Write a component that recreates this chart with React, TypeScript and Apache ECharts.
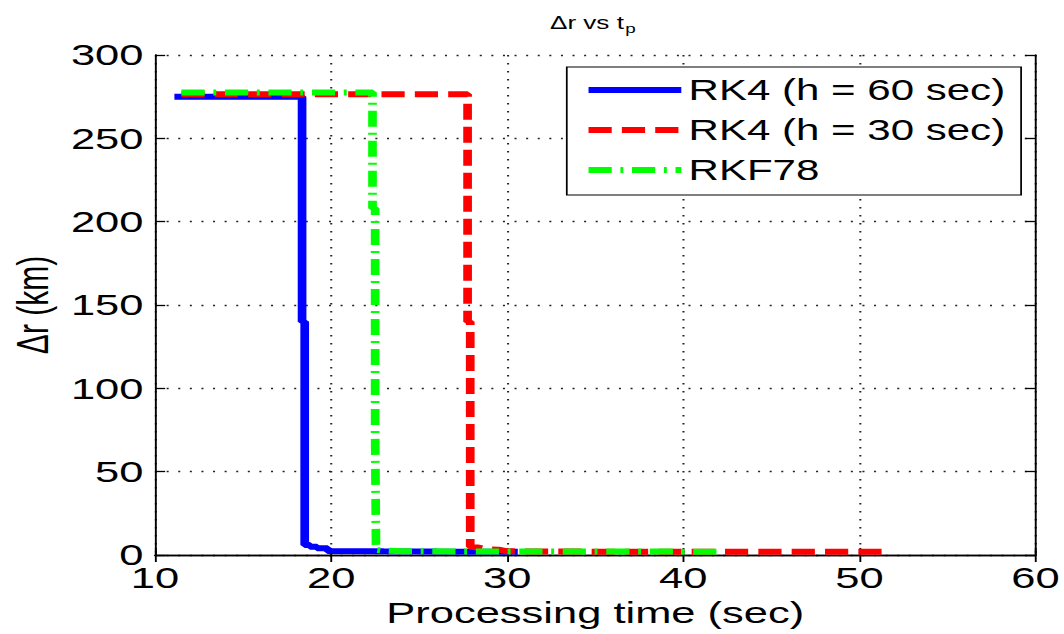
import React, { useEffect, useRef } from "react";
import * as echarts from "echarts";

// Data (x: processing time in sec, y: Δr in km)
const seriesNames = ["RK4 (h = 60 sec)", "RK4 (h = 30 sec)", "RKF78"];

const rk4h60: [number, number][] = [
  [11.1, 275], [18.35, 275], [18.35, 140], [18.5, 140], [18.5, 6],
  [18.8, 6], [18.8, 5], [19.2, 5], [19.2, 4], [19.8, 4], [19.8, 2.4],
  [23, 2.2], [26, 2.1], [30.6, 2],
];

const rk4h30: [number, number][] = [
  [11.5, 276.5], [27.75, 276.5], [27.75, 140], [27.9, 140], [27.9, 5],
  [28.3, 4.5], [28.8, 3.5], [29.5, 3.2], [30, 2.2], [35, 2], [51.7, 2],
];

const rkf78: [number, number][] = [
  [11.5, 277.5], [22.35, 277.5], [22.35, 208], [22.5, 208], [22.5, 73],
  [22.55, 73], [22.55, 3], [23, 2.6], [24, 2.2], [42.1, 2],
];

const xRange = { min: 10, max: 60, interval: 10 };
const yRange = { min: 0, max: 300, interval: 50 };

// The reference image is horizontally stretched; reproduce that by drawing
// at a narrower width and scaling the whole chart horizontally.
const PAGE_W = 1064;
const PAGE_H = 634;
const CHART_W = 734;
const STRETCH = PAGE_W / CHART_W;

const FONT = "Liberation Sans";

export default function App() {
  const ref = useRef<HTMLDivElement>(null);

  useEffect(() => {
    document.body.style.margin = "0";
    document.body.style.overflow = "hidden";
    const chart = echarts.init(ref.current!, null, { renderer: "svg" });

    const axisLine = { show: true, lineStyle: { color: "#000", width: 1.3 } };
    const tick = { show: true, inside: true, length: 7, lineStyle: { color: "#000", width: 1.3 } };
    const grid = { show: true, lineStyle: { color: "#222", width: 1.4, type: [1.4, 6.6] } };
    const label = { fontFamily: FONT, fontSize: 30, color: "#000", lineHeight: 22 };

    chart.setOption({
      animation: false,
      backgroundColor: "#fff",
      title: {
        text: "{b|Δr vs t}{s|p}",
        left: 404,
        textAlign: "center",
        top: 6,
        textStyle: {
          fontWeight: "normal",
          rich: {
            b: { fontFamily: FONT, fontSize: 18, fontWeight: "normal", color: "#000" },
            s: { fontFamily: FONT, fontSize: 13, fontWeight: "normal", color: "#000", padding: [11, 0, 0, 1] },
          },
        },
      },
      grid: { left: 102.8, top: 55, right: 17.9, bottom: 79, containLabel: false },
      legend: {
        data: seriesNames,
        orient: "vertical",
        left: 391,
        top: 67,
        padding: [8, 11, 10, 12],
        itemGap: 10,
        itemWidth: 64,
        itemHeight: 14,
        backgroundColor: "#fff",
        borderColor: "#000",
        borderWidth: 1.2,
        borderRadius: 0,
        itemStyle: { opacity: 0 },
        lineStyle: { width: 6 },
        textStyle: { fontFamily: FONT, fontSize: 29, color: "#000", lineHeight: 30 },
      },
      xAxis: [
        {
          type: "value",
          ...xRange,
          name: "Processing time (sec)",
          nameLocation: "middle",
          nameGap: 28,
          nameTextStyle: { fontFamily: FONT, fontSize: 30, color: "#000" },
          axisLine,
          axisTick: tick,
          splitLine: grid,
          axisLabel: { ...label, margin: 12 },
        },
        {
          type: "value",
          position: "top",
          ...xRange,
          axisLine,
          axisTick: tick,
          splitLine: { show: false },
          axisLabel: { show: false },
        },
      ],
      yAxis: [
        {
          type: "value",
          ...yRange,
          name: "Δr (km)",
          nameLocation: "middle",
          nameGap: 67,
          nameRotate: 90,
          nameTextStyle: { fontFamily: FONT, fontSize: 30, color: "#000" },
          axisLine,
          axisTick: tick,
          splitLine: grid,
          axisLabel: { ...label, margin: 8 },
        },
        {
          type: "value",
          position: "right",
          ...yRange,
          axisLine,
          axisTick: tick,
          splitLine: { show: false },
          axisLabel: { show: false },
        },
      ],
      series: [
        {
          name: seriesNames[0],
          type: "line",
          data: rk4h60,
          symbol: "none",
          lineStyle: { color: "#0000ff", width: 6, type: "solid", cap: "butt" },
          itemStyle: { color: "#0000ff" },
        },
        {
          name: seriesNames[1],
          type: "line",
          data: rk4h30,
          symbol: "none",
          lineStyle: { color: "#ff0000", width: 6, type: [16, 7], cap: "butt" },
          itemStyle: { color: "#ff0000" },
        },
        {
          name: seriesNames[2],
          type: "line",
          data: rkf78,
          symbol: "none",
          lineStyle: { color: "#00ff00", width: 6, type: [16, 6, 2, 6], cap: "butt" },
          itemStyle: { color: "#00ff00" },
        },
      ],
    });

    return () => chart.dispose();
  }, []);

  return (
    <div style={{ width: PAGE_W, height: PAGE_H, overflow: "hidden", background: "#fff" }}>
      <div
        ref={ref}
        style={{
          width: CHART_W,
          height: PAGE_H,
          transform: `scaleX(${STRETCH})`,
          transformOrigin: "0 0",
        }}
      />
    </div>
  );
}
